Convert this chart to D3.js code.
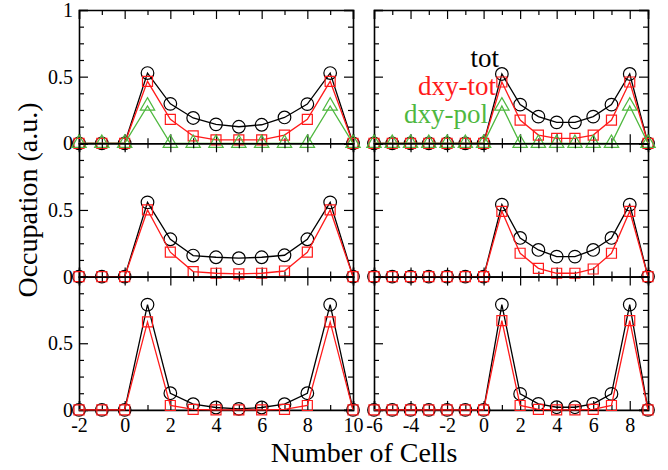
<!DOCTYPE html>
<html>
<head>
<meta charset="utf-8">
<script src="https://cdn.jsdelivr.net/npm/d3@7"></script>
<style>
  body { margin: 0; background: #fff; }
  svg text { font-family: "Liberation Serif", "DejaVu Serif", serif; }
</style>
</head>
<body>
<div id="chart"></div>
<script>
// x positions (cells) for the two columns
var cellsLeft  = [-2, -1, 0, 1, 2, 3, 4, 5, 6, 7, 8, 9, 10]
var cellsRight = [-6, -5, -4, -3, -2, -1, 0, 1, 2, 3, 4, 5, 6, 7, 8, 9]

// row 1 (with legend)
var totTL    = [0, 0, 0, 0.527, 0.296, 0.19, 0.142, 0.124, 0.139, 0.194, 0.294, 0.527, 0]
var dxyTotTL = [0, 0, 0, 0.465, 0.18, 0.055, 0.025, 0.025, 0.025, 0.062, 0.18, 0.465, 0]
var dxyPolTL = [0, 0, 0, 0.28, 0, 0, 0, 0, 0, 0, 0, 0.28, 0]
var totTR    = [0, 0, 0, 0, 0, 0, 0, 0.52, 0.29, 0.2, 0.157, 0.157, 0.2, 0.29, 0.52, 0]
var dxyTotTR = [0, 0, 0, 0, 0, 0, 0, 0.46, 0.174, 0.062, 0.037, 0.037, 0.062, 0.174, 0.46, 0]
var dxyPolTR = [0, 0, 0, 0, 0, 0, 0, 0.28, 0, 0, 0, 0, 0, 0, 0.28, 0]

// row 2
var totML    = [0, 0, 0, 0.557, 0.28, 0.158, 0.145, 0.138, 0.145, 0.16, 0.28, 0.557, 0]
var dxyTotML = [0, 0, 0, 0.5, 0.183, 0.038, 0.025, 0.02, 0.025, 0.042, 0.183, 0.5, 0]
var totMR    = [0, 0, 0, 0, 0, 0, 0, 0.54, 0.29, 0.2, 0.15, 0.15, 0.2, 0.29, 0.54, 0]
var dxyTotMR = [0, 0, 0, 0, 0, 0, 0, 0.49, 0.175, 0.062, 0.025, 0.025, 0.057, 0.175, 0.49, 0]

// row 3
var totBL    = [0, 0, 0, 0.79, 0.125, 0.043, 0.018, 0.008, 0.018, 0.043, 0.125, 0.79, 0]
var dxyTotBL = [0, 0, 0, 0.66, 0.033, 0.004, 0, 0, 0, 0.004, 0.033, 0.66, 0]
var totBR    = [0, 0, 0, 0, 0, 0, 0, 0.79, 0.12, 0.045, 0.02, 0.02, 0.045, 0.12, 0.79, 0]
var dxyTotBR = [0, 0, 0, 0, 0, 0, 0, 0.67, 0.033, 0.004, 0, 0, 0.004, 0.033, 0.67, 0]

var xTicksLeft  = [-2, 0, 2, 4, 6, 8, 10]
var xTicksRight = [-6, -4, -2, 0, 2, 4, 6, 8]
var yTicks      = [0, 0.5, 1]
var legendNames = ['tot', 'dxy-tot', 'dxy-pol']

var colors = {tot: '#000000', dxyTot: '#ff1a1a', dxyPol: '#4fb83f'}

var width = 668, height = 470
var serif = '"Liberation Serif", "DejaVu Serif", serif'

var svg = d3.select('#chart')
			.append('svg')
			.attr('width', width)
			.attr('height', height)

//panel geometry
var cols = [
	{x0: 79,  x1: 353, domain: [-2, 10], cells: cellsLeft,  ticks: xTicksLeft,  labels: true},
	{x0: 374, x1: 648, domain: [-6, 9],  cells: cellsRight, ticks: xTicksRight, labels: false}
]
var rowTop = 10, rowH = 133.3

var panels = [
	{row: 0, col: 0, series: [['tot', totTL], ['dxyTot', dxyTotTL], ['dxyPol', dxyPolTL]]},
	{row: 0, col: 1, series: [['tot', totTR], ['dxyTot', dxyTotTR], ['dxyPol', dxyPolTR]]},
	{row: 1, col: 0, series: [['tot', totML], ['dxyTot', dxyTotML]]},
	{row: 1, col: 1, series: [['tot', totMR], ['dxyTot', dxyTotMR]]},
	{row: 2, col: 0, series: [['tot', totBL], ['dxyTot', dxyTotBL]]},
	{row: 2, col: 1, series: [['tot', totBR], ['dxyTot', dxyTotBR]]}
]

function minorRange(a, b, step) {
	var out = []
	for (var v = a; v <= b + 1e-9; v += step) out.push(+v.toFixed(4))
	return out
}

panels.forEach(function(p) {
	var c = cols[p.col]
	var top = rowTop + p.row * rowH
	var x = d3.scaleLinear().domain(c.domain).range([c.x0, c.x1])
	var y = d3.scaleLinear().domain([0, 1]).range([top + rowH, top])

	var g = svg.append('g')

	var xMinor = minorRange(c.domain[0], c.domain[1], 1).filter(function(v){ return c.ticks.indexOf(v) < 0 })
	var yMinor = [0.125, 0.25, 0.375, 0.625, 0.75, 0.875]

	//inward ticks on all four sides
	function axisSet(scale, orient, translate, major, minor, showLabels, fmt, pad) {
		var mk = orient === 'bottom' ? d3.axisBottom : orient === 'top' ? d3.axisTop : orient === 'left' ? d3.axisLeft : d3.axisRight
		var a1 = g.append('g').attr('transform', translate)
			.call(mk(scale).tickValues(major).tickSize(-9).tickPadding(pad).tickFormat(showLabels ? fmt : ''))
		var a2 = g.append('g').attr('transform', translate)
			.call(mk(scale).tickValues(minor).tickSize(-5).tickFormat(''))
		a2.select('.domain').remove()
		;[a1, a2].forEach(function(a) {
			a.attr('font-family', serif).attr('font-size', 20)
			a.selectAll('line').attr('stroke', '#000').attr('stroke-width', 1.2)
			a.select('.domain').attr('stroke', '#000').attr('stroke-width', 1.6)
			a.selectAll('text').attr('fill', '#000').style('font-size', '20px')
				.style('font-family', serif)
		})
		return a1
	}

	var fmtX = function(d){ return d < 0 ? '-' + Math.abs(d) : String(d) }
	var fmtY = function(d){ return String(d) }

	axisSet(x, 'bottom', 'translate(0,' + (top + rowH) + ')', c.ticks, xMinor, p.row === 2, fmtX, 8)
	axisSet(x, 'top', 'translate(0,' + top + ')', c.ticks, xMinor, false, fmtX, 0)
	var yMajor = p.row === 0 ? yTicks : [0, 0.5]
	axisSet(y, 'left', 'translate(' + c.x0 + ',0)', yMajor, yMinor, c.labels, fmtY, 6)
	axisSet(y, 'right', 'translate(' + c.x1 + ',0)', yTicks, yMinor, false, fmtY, 0)

	//series
	p.series.forEach(function(s) {
		var key = s[0], vals = s[1]
		var pts = c.cells.map(function(cx, i){ return [cx, vals[i]] })
		var col = colors[key]
		g.append('path')
			.datum(pts)
			.attr('fill', 'none')
			.attr('stroke', col)
			.attr('stroke-width', 1.3)
			.attr('d', d3.line().x(function(d){ return x(d[0]) }).y(function(d){ return y(d[1]) }))

		var sym = key === 'tot' ? d3.symbolCircle : key === 'dxyTot' ? d3.symbolSquare : d3.symbolTriangle
		var size = key === 'tot' ? 125 : key === 'dxyTot' ? 100 : 90
		g.selectAll('.m-' + key)
			.data(pts)
			.enter().append('path')
			.attr('class', 'm-' + key)
			.attr('transform', function(d){ return 'translate(' + x(d[0]) + ',' + y(d[1]) + ')' })
			.attr('d', d3.symbol().type(sym).size(size))
			.attr('fill', 'none')
			.attr('stroke', col)
			.attr('stroke-width', 1.2)
	})
})

//legend text (top right panel)
var legendColors = [colors.tot, colors.dxyTot, colors.dxyPol]
var legendPos = [[499, 67], [496, 95], [488, 123]]
svg.selectAll('.legend')
	.data(legendNames)
	.enter().append('text')
	.attr('class', 'legend')
	.attr('x', function(d, i){ return legendPos[i][0] })
	.attr('y', function(d, i){ return legendPos[i][1] })
	.attr('text-anchor', 'end')
	.style('font-size', '27px')
	.attr('fill', function(d, i){ return legendColors[i] })
	.text(function(d){ return d })

//axis titles
svg.append('text')
	.attr('x', 364)
	.attr('y', 462)
	.attr('text-anchor', 'middle')
	.style('font-size', '28px')
	.text('Number of Cells')

svg.append('text')
	.attr('transform', 'translate(37,200) rotate(-90)')
	.attr('text-anchor', 'middle')
	.style('font-size', '28px')
	.text('Occupation (a.u.)')
</script>
</body>
</html>
